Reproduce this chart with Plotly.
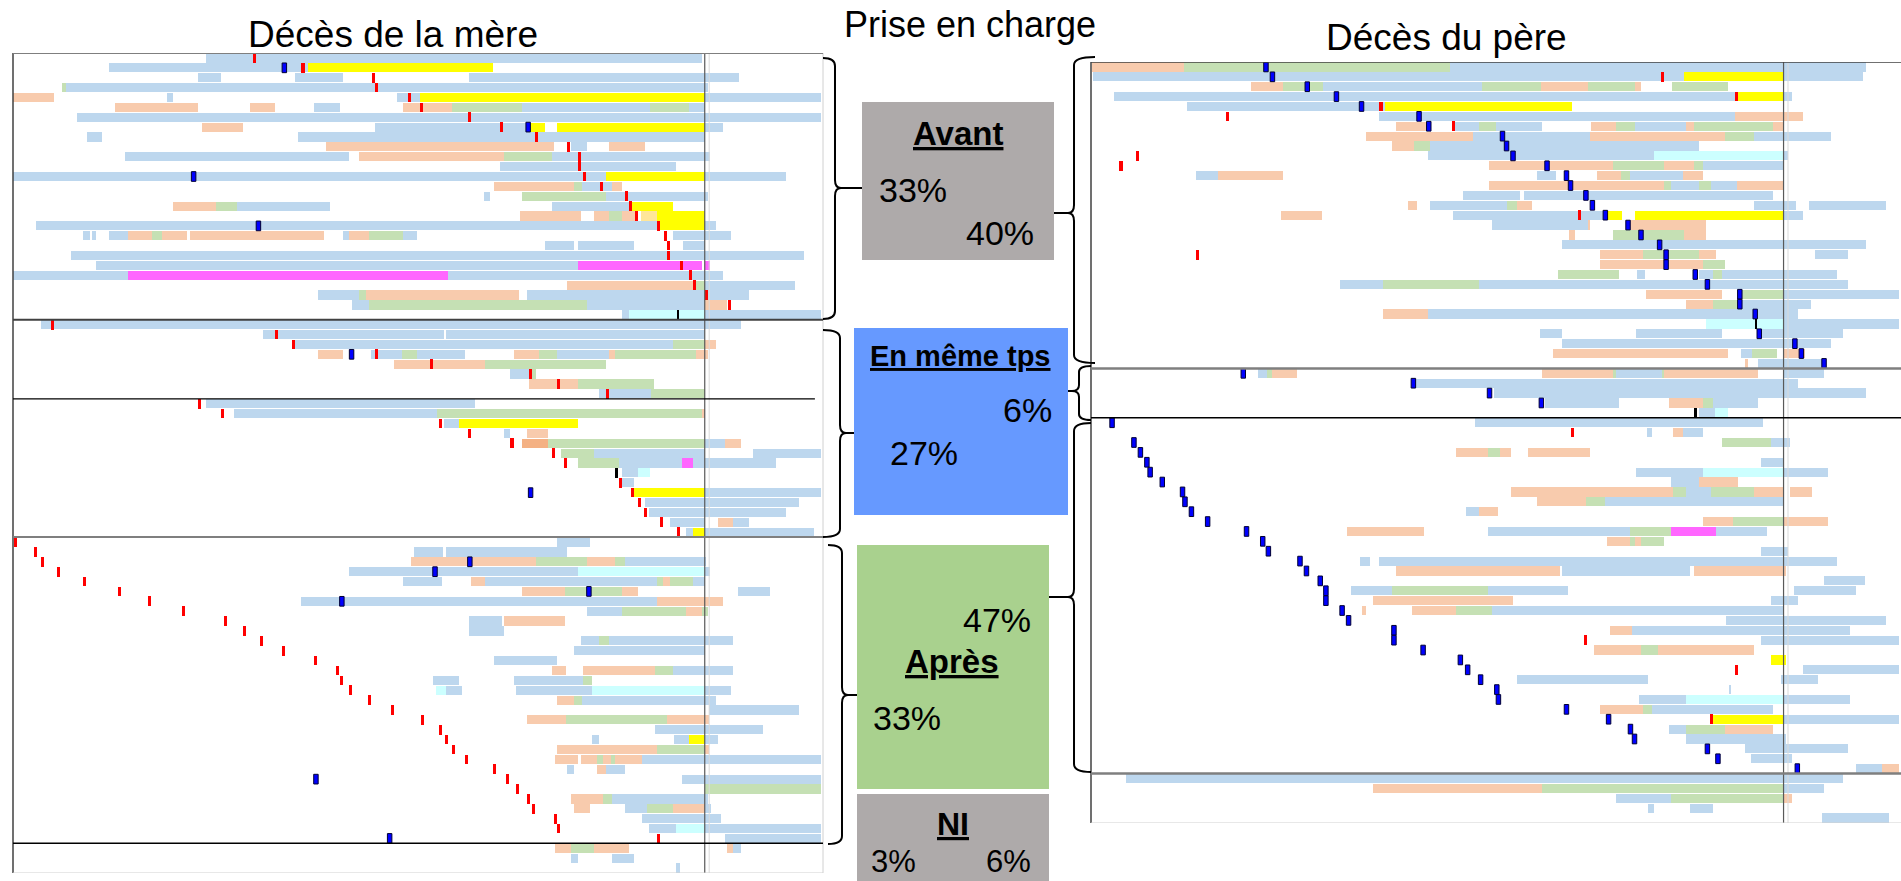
import plotly.graph_objects as go

W, H = 1901, 881

# colour codes for timeline segments and event marks
SEG_COLORS = {'b': '#bdd7ee', 'p': '#f8cbad', 'g': '#c5e0b4', 'y': '#ffff00',
              'm': '#ff66ff', 'c': '#ccffff', 'o': '#f4b183', 'l': '#ffe699'}
MARK_STYLE = {'R': ('#ff0000', 0.38, '#ff0000', 0.0),
              'K': ('#0000ff', 0.55, '#000033', 1.0),
              'N': ('#000000', 0.32, '#000000', 0.0)}

# ---------------- Décès de la mère ----------------
mere_avant = [
    [('b',23.8,85.1),('R',29.8)],
    [('b',11.8,36.4),('y',36.4,59.3),('K',33.5),('R',35.8)],
    [('b',22.8,25.7),('b',34.8,40.7),('b',56.3,89.6),('R',44.5)],
    [('g',6.0,6.6),('b',6.6,85.8),('R',44.9)],
    [('p',0,5.1),('b',19.0,19.7),('b',47.4,50.2),('y',50.2,85.4),('b',85.4,99.7),('R',48.9)],
    [('p',12.6,22.8),('p',29.3,32.3),('b',37.2,40.4),('p',48.2,54.2),('g',54.2,62.8),('b',62.8,78.7),('g',78.7,83.4),('b',83.4,85.4),('R',50.4)],
    [('b',7.9,99.7),('R',56.4)],
    [('p',23.3,28.4),('b',44.7,63.9),('y',63.9,65.7),('y',67.2,85.4),('b',85.4,87.7),('R',60.3),('K',63.6)],
    [('b',9.1,11.0),('b',35.2,85.4),('R',64.6)],
    [('p',38.7,66.8),('b',68.9,70.9),('p',73.6,78.0),('R',68.6)],
    [('b',13.8,41.5),('p',42.7,60.6),('g',60.6,66.6),('b',66.6,86.1),('R',69.9)],
    [('b',60.1,81.9),('R',69.9)],
    [('b',0,73.2),('y',73.2,85.4),('b',85.4,95.4),('K',22.3),('R',70.6)],
    [('p',59.4,69.2),('g',69.2,70.3),('b',70.3,73.9),('p',73.9,75.2),('R',72.6)],
    [('b',58.1,58.9),('g',62.8,73.2),('b',73.2,85.8),('R',75.7)],
    [('p',19.7,25.0),('g',25.0,27.7),('b',27.7,39.1),('b',66.6,76.2),('y',76.2,81.5),('R',76.2)],
    [('p',62.6,70.1),('p',71.7,73.6),('g',73.6,75.2),('p',75.2,76.8),('l',77.5,79.5),('y',79.5,85.4),('R',77.0)],
    [('b',2.8,79.8),('y',79.8,85.4),('b',85.4,86.8),('K',30.3),('R',79.7)],
    [('b',8.6,9.5),('b',9.8,10.3),('b',11.8,14.2),('p',14.2,17.1),('g',17.1,18.4),('p',18.4,21.5),('p',21.9,38.4),('b',40.7,41.5),('p',41.5,43.9),('g',43.9,48.2),('b',48.2,49.9),('b',81.5,88.7),('R',80.5)],
    [('b',65.7,69.2),('b',69.7,76.7),('b',82.7,85.4),('R',80.9)],
    [('b',7.2,97.7),('R',80.9)],
    [('b',10.3,69.7),('m',69.7,85.1),('m',85.4,86.1),('R',82.5)],
    [('b',0,14.2),('m',14.2,53.7),('b',53.7,87.7),('R',83.6)],
    [('p',68.4,84.1),('g',84.1,85.4),('b',85.4,96.5),('R',84.1)],
    [('b',37.6,42.7),('g',42.7,43.6),('p',43.6,62.5),('b',63.4,90.9),('R',85.6)],
    [('b',41.9,43.9),('g',43.9,70.9),('b',70.9,85.4),('p',85.4,88.1),('R',88.4)],
    [('b',75.2,76.0),('c',76.0,85.4),('b',85.4,99.7),('N',82.1)],
]
mere_meme_a = [
    [('b',3.5,89.9),('R',4.9)],
    [('b',30.9,53.2),('b',53.4,85.4),('R',32.5)],
    [('b',34.8,81.5),('g',81.5,85.4),('p',85.4,86.8),('R',34.6)],
    [('p',37.6,40.7),('b',44.2,48.0),('g',48.0,49.9),('b',49.9,55.8),('p',61.8,64.9),('g',64.9,67.2),('b',67.2,73.6),('p',73.6,74.3),('g',74.3,84.3),('p',84.3,85.8),('K',41.8),('R',44.9)],
    [('p',47.0,58.3),('g',58.3,73.2),('R',51.7)],
    [('b',61.4,63.9),('g',63.9,64.6),('R',63.9)],
    [('p',63.7,69.7),('g',69.7,79.1),('R',67.4)],
    [('b',72.4,78.8),('g',78.8,85.4),('R',73.4)],
]
mere_meme_b = [
    [('b',23.8,57.0),('R',23.0)],
    [('b',27.3,52.3),('g',52.3,85.1),('p',85.1,85.4),('R',25.9)],
    [('b',53.2,55.1),('y',55.1,69.7),('R',52.8)],
    [('b',60.6,61.4),('p',63.4,66.0),('R',56.4)],
    [('o',62.9,66.0),('g',66.0,85.4),('b',85.4,87.9),('p',87.9,89.9),('R',61.6)],
    [('g',67.7,71.7),('b',71.7,85.4),('b',91.4,99.7),('R',66.7)],
    [('g',69.7,74.8),('b',74.8,82.6),('m',82.6,83.9),('b',83.9,94.2),('R',68.2)],
    [('b',75.2,77.2),('c',77.2,78.7),('N',74.5)],
    [('b',75.2,76.7),('R',75.0)],
    [('y',76.7,85.4),('b',85.4,99.7),('K',63.9),('R',76.5)],
    [('b',78.0,97.0),('R',77.4)],
    [('b',78.5,95.4),('R',78.1)],
    [('b',81.1,85.4),('p',87.0,88.9),('b',88.9,90.9),('R',80.1)],
    [('b',83.1,83.9),('y',83.9,85.4),('b',85.4,98.9),('R',82.2)],
]
mere_apres = [
    [('b',67.2,71.2),('R',0.3)],
    [('b',49.5,53.1),('b',53.4,68.4),('R',2.8)],
    [('p',49.1,64.6),('g',64.6,70.9),('p',70.9,74.3),('g',74.3,75.6),('b',75.6,85.6),('R',3.6),('K',56.4)],
    [('b',41.5,69.7),('c',69.7,85.4),('b',85.4,86.1),('R',5.6),('K',52.1)],
    [('b',48.2,53.0),('p',56.6,58.3),('b',58.3,79.5),('g',79.5,80.3),('p',80.3,81.1),('g',81.1,83.9),('b',83.9,85.4),('R',8.8)],
    [('p',62.9,68.1),('g',68.1,75.2),('p',75.2,77.2),('b',89.5,93.4),('R',13.2),('K',71.1)],
    [('b',35.6,79.5),('p',79.5,87.7),('R',16.8),('K',40.6)],
    [('b',70.9,75.2),('g',75.2,83.1),('p',83.1,85.1),('g',85.1,85.8),('R',21.1)],
    [('b',56.3,60.4),('p',60.6,68.1),('R',26.2)],
    [('b',56.3,60.6),('R',28.6)],
    [('b',70.1,72.3),('g',72.3,73.6),('b',73.6,88.9),('R',30.7)],
    [('b',69.2,85.4),('R',33.4)],
    [('b',59.4,67.2),('R',37.4)],
    [('p',66.6,68.3),('p',70.4,79.3),('g',79.3,81.5),('b',81.5,88.9),('R',40.1)],
    [('b',51.9,55.1),('b',61.8,70.4),('g',70.4,71.5),('R',40.5)],
    [('c',52.2,53.4),('b',53.4,55.4),('b',62.1,71.5),('c',71.5,85.4),('b',85.4,88.7),('R',41.7)],
    [('p',67.2,69.2),('g',69.2,70.3),('b',70.3,86.8),('R',44.0)],
    [('b',85.9,97.0),('R',46.9)],
    [('p',63.4,68.3),('g',68.3,80.8),('p',80.8,85.9),('R',50.5)],
    [('b',79.3,92.6),('R',52.8)],
    [('b',71.5,72.3),('b',81.6,83.4),('y',83.4,85.4),('b',85.4,87.0),('R',53.5)],
    [('p',67.2,79.5),('g',79.5,85.4),('p',85.4,85.9),('R',54.4)],
    [('p',66.9,69.7),('p',70.1,72.1),('g',72.1,72.9),('p',72.9,73.8),('g',73.8,74.3),('p',74.3,77.6),('b',77.6,99.7),('R',56.0)],
    [('b',68.4,69.2),('p',72.1,73.2),('b',73.2,75.5),('R',59.5)],
    [('b',82.6,99.7),('R',61.1),('K',37.4)],
    [('g',85.4,99.7),('R',62.3)],
    [('p',68.9,72.9),('g',72.9,74.0),('b',74.0,85.8),('R',63.6)],
    [('p',69.3,71.2),('b',75.6,78.3),('g',78.3,81.5),('p',81.5,85.4),('b',85.4,86.2),('R',64.3)],
    [('b',77.6,87.4),('R',67.0)],
    [('b',78.5,81.9),('c',81.9,85.4),('b',85.4,99.7),('R',67.4)],
    [('b',87.9,99.7),('R',79.7),('K',46.5)],
]
mere_ni = [
    [('p',66.9,68.9),('g',68.9,71.7),('p',71.7,76.0),('p',88.2,88.9),('b',88.9,89.9)],
    [('b',68.9,69.7),('b',74.0,76.7)],
    [('b',81.9,82.3)],
]

# ---------------- Décès du père ----------------
pere_avant = [
    [('p',0.1,11.5),('g',11.5,44.3),('b',44.3,95.7),('K',21.6)],
    [('b',0.3,73.2),('y',73.2,85.5),('b',85.5,95.3),('K',22.4),('R',70.5)],
    [('p',19.8,23.7),('g',23.7,28.7),('b',28.7,48.3),('g',48.3,55.5),('p',55.5,61.3),('g',61.3,67.2),('p',67.2,67.9),('g',71.7,78.7),('K',26.7)],
    [('b',2.8,79.7),('y',79.9,85.5),('b',85.5,86.6),('K',30.3),('R',79.7)],
    [('b',11.9,36.3),('y',36.3,59.4),('K',33.4),('R',35.8)],
    [('b',35.6,79.5),('p',79.5,87.9),('R',16.8),('K',40.5)],
    [('p',37.7,41.3),('b',44.8,47.9),('g',47.9,50.0),('b',50.0,55.7),('p',61.7,64.8),('g',64.8,67.2),('b',67.2,73.5),('p',73.5,74.5),('g',74.5,84.2),('p',84.2,85.5),('K',41.7),('R',44.8)],
    [('p',34.0,47.1),('b',47.1,61.6),('p',61.6,78.3),('g',78.3,81.9),('b',81.9,91.3),('K',50.8)],
    [('p',37.2,39.9),('g',39.9,41.8),('b',41.8,75.0),('K',51.3)],
    [('b',41.6,69.5),('c',69.5,85.5),('b',85.5,86.1),('R',5.7),('K',52.1)],
    [('p',49.1,64.5),('g',64.5,70.8),('p',70.8,74.5),('g',74.5,75.5),('b',75.5,85.5),('R',3.7),('K',56.3)],
    [('b',13.0,15.7),('p',15.7,23.7),('b',55.0,57.4),('p',62.5,65.4),('g',65.4,66.5),('b',66.5,73.1),('p',73.1,75.5),('K',58.7)],
    [('p',49.1,70.8),('g',70.8,71.6),('b',71.6,75.0),('g',75.0,76.5),('b',76.5,79.7),('p',79.7,85.5),('K',59.2)],
    [('b',45.9,53.0),('b',53.4,84.2),('K',61.1)],
    [('p',39.1,40.3),('b',41.9,51.4),('g',51.4,52.6),('p',52.6,54.5),('b',81.9,87.0),('b',88.7,98.1),('K',61.9)],
    [('p',23.4,28.5),('b',44.7,63.5),('y',63.5,65.6),('y',67.2,85.5),('b',85.5,87.9),('R',60.3),('K',63.5)],
    [('b',49.5,61.3),('p',61.3,61.6),('p',66.6,75.9),('K',66.3)],
    [('p',59.0,59.7),('g',64.5,73.2),('p',73.2,75.9),('K',67.9)],
    [('b',58.2,95.7),('K',70.2)],
    [('p',62.9,68.1),('g',68.1,75.0),('p',75.0,77.1),('b',89.4,93.4),('R',13.2),('K',71.0)],
    [('p',62.9,75.5),('g',75.5,78.3),('K',71.0)],
    [('g',57.7,65.2),('b',67.4,68.4),('b',75.0,76.8),('g',76.8,77.9),('b',77.9,92.1),('K',74.6)],
    [('b',30.8,36.0),('g',36.0,47.9),('b',47.9,93.4),('K',76.1)],
    [('p',68.5,77.9),('g',80.1,85.5),('b',85.5,99.7),('K',80.1)],
    [('p',73.5,76.8),('g',76.8,80.1),('b',80.1,88.9),('K',80.1)],
    [('p',36.0,41.6),('b',41.6,87.3),('K',82.0)],
    [('c',75.9,85.5),('b',85.5,99.7),('N',82.1)],
    [('b',55.4,58.1),('b',67.3,77.9),('b',82.5,92.9),('K',82.5)],
    [('b',58.2,91.3),('K',86.9)],
    [('p',57.0,78.7),('b',80.3,81.6),('g',81.6,84.7),('p',85.5,88.1),('K',87.7)],
    [('p',80.8,81.1),('b',82.3,90.3),('K',90.5)],
]
pere_meme = [
    [('b',20.6,21.7),('g',21.7,22.3),('p',22.3,25.4),('p',55.7,64.5),('g',64.5,64.8),('b',64.8,70.5),('g',70.5,70.8),('p',70.8,82.3),('b',85.5,90.5),('K',18.8)],
    [('b',40.0,87.3),('K',39.8)],
    [('b',49.7,95.7),('K',49.2)],
    [('b',56.0,65.2),('p',71.3,75.6),('g',75.6,76.8),('b',76.8,82.3),('K',55.6)],
    [('b',75.0,77.0),('c',77.0,78.7),('N',74.6)],
]
pere_apres = [
    [('b',47.4,83.0),('K',2.6)],
    [('b',68.6,69.2),('p',71.9,73.1),('b',73.1,75.6),('R',59.5)],
    [('g',77.9,83.9),('b',83.9,86.3),('K',5.3)],
    [('p',45.0,49.0),('g',49.0,50.5),('p',50.5,51.8),('p',53.9,61.6),('K',6.1)],
    [('b',82.7,85.5),('K',6.9)],
    [('b',67.3,75.6),('c',75.6,85.5),('b',85.5,91.0),('K',7.3)],
    [('b',71.6,75.0),('p',75.0,79.9),('K',8.8)],
    [('p',51.8,71.9),('g',71.9,73.5),('b',73.5,76.5),('g',76.5,81.9),('p',81.9,85.5),('p',86.3,89.0),('K',11.3)],
    [('p',55.0,61.1),('g',61.1,63.5),('b',63.5,85.5),('K',11.6)],
    [('b',46.3,47.9),('p',47.9,50.2),('K',12.4)],
    [('p',75.6,79.2),('g',79.2,85.5),('p',85.5,91.0),('K',14.4)],
    [('p',31.6,41.1),('b',49.0,66.5),('g',66.5,71.6),('m',71.6,77.1),('b',77.1,83.4),('K',19.2)],
    [('p',63.7,66.5),('g',66.5,67.2),('p',67.2,67.9),('g',67.9,70.8),('K',21.2)],
    [('b',82.7,86.1),('K',21.9)],
    [('b',33.2,34.4),('b',35.6,92.1),('K',25.8)],
    [('p',37.7,57.9),('b',58.1,74.0),('p',74.4,85.8),('K',26.6)],
    [('b',90.5,95.6),('K',28.3)],
    [('b',32.1,37.2),('g',37.2,49.0),('b',49.0,58.9),('b',86.8,94.5),('K',29.0)],
    [('p',34.8,52.1),('b',83.9,87.3),('K',29.0)],
    [('p',33.5,33.9),('p',39.6,45.0),('g',45.0,49.5),('b',49.5,85.5),('K',31.0)],
    [('b',78.4,98.1),('K',31.8)],
    [('p',64.1,66.8),('b',66.8,93.7),('K',37.4)],
    [('b',82.7,99.7),('R',61.0),('K',37.4)],
    [('p',62.1,67.9),('g',67.9,70.0),('p',70.0,81.9),('K',41.0)],
    [('y',83.9,85.8),('K',45.6)],
    [('b',87.9,99.7),('R',79.7),('K',46.5)],
    [('b',52.6,68.8),('b',85.2,89.7),('K',48.1)],
    [('b',78.8,79.0),('K',50.1)],
    [('b',67.7,73.5),('c',73.5,85.5),('b',85.5,93.7),('K',50.3)],
    [('p',62.9,68.1),('g',68.1,69.2),('b',69.2,84.2),('K',58.7)],
    [('y',76.8,85.5),('b',85.5,99.7),('R',76.6),('K',63.9)],
    [('b',71.3,73.5),('g',73.5,78.3),('p',78.3,84.2),('K',66.6)],
    [('b',73.5,85.8),('K',67.1)],
    [('b',80.8,93.4),('K',76.1)],
    [('b',81.5,86.6),('K',77.4)],
    [('b',94.5,97.7),('p',97.7,99.7),('K',87.2)],
]
pere_ni = [
    [('b',4.3,92.9)],
    [('p',34.8,55.7),('g',55.7,85.5),('b',85.5,90.5)],
    [('b',64.8,71.6),('g',71.6,85.5),('p',85.5,86.6)],
    [('b',68.8,69.5),('b',74.0,76.8)],
    [('b',90.2,98.5)],
]

mere_rows = mere_avant + mere_meme_a + mere_meme_b + mere_apres + mere_ni
pere_rows = pere_avant + pere_meme + pere_apres + pere_ni
mere_ref = 85.4   # vertical reference line (time axis)
pere_ref = 85.5

panel_titles = ["Décès de la mère", "Prise en charge", "Décès du père"]
group_labels = ["Avant", "En même tps", "Après", "NI"]
pct_mere = ["33%", "27%", "33%", "3%"]
pct_pere = ["40%", "6%", "47%", "6%"]

fig = go.Figure()


def add_panel(rows, xa, ya):
    for code, col in SEG_COLORS.items():
        ys, bases, lens = [], [], []
        for i, row in enumerate(rows):
            for it in row:
                if len(it) == 3 and it[0] == code:
                    ys.append(i); bases.append(it[1]); lens.append(it[2] - it[1])
        if ys:
            fig.add_trace(go.Bar(orientation='h', y=ys, x=lens, base=bases, width=0.93,
                                 marker=dict(color=col, line=dict(width=0)),
                                 xaxis=xa, yaxis=ya, hoverinfo='skip', showlegend=False))
    for code, (col, w, lcol, lw) in MARK_STYLE.items():
        ys, bases = [], []
        for i, row in enumerate(rows):
            for it in row:
                if len(it) == 2 and it[0] == code:
                    ys.append(i); bases.append(it[1] - w / 2)
        if ys:
            fig.add_trace(go.Bar(orientation='h', y=ys, x=[w] * len(ys), base=bases, width=0.98,
                                 marker=dict(color=col, line=dict(width=lw, color=lcol)),
                                 xaxis=xa, yaxis=ya, hoverinfo='skip', showlegend=False))


add_panel(mere_rows, 'x', 'y')
add_panel(pere_rows, 'x2', 'y2')

nm = len(mere_rows)
npr = len(pere_rows)

ax_common = dict(visible=False, showgrid=False, zeroline=False, fixedrange=True)
fig.update_layout(
    width=W, height=H, autosize=False,
    margin=dict(l=0, r=0, t=0, b=0),
    paper_bgcolor='white', plot_bgcolor='white',
    barmode='overlay', bargap=0,
    xaxis=dict(domain=[13 / W, 823 / W], range=[0, 100], anchor='y', **ax_common),
    yaxis=dict(domain=[1 - 873 / H, 1 - 53 / H], range=[nm - 0.5, -0.5], anchor='x', **ax_common),
    xaxis2=dict(domain=[1091 / W, 1.0], range=[0, 100], anchor='y2', **ax_common),
    yaxis2=dict(domain=[1 - 823 / H, 1 - 62 / H], range=[npr - 0.5, -0.5], anchor='x2', **ax_common),
)

shapes = []


def hline(xr, yr, yv, color, width, x0=0, x1=1):
    shapes.append(dict(type='line', xref=xr + ' domain', yref=yr, x0=x0, x1=x1, y0=yv, y1=yv,
                       line=dict(color=color, width=width), layer='above'))


def vline(xr, yr, xv, color, width):
    shapes.append(dict(type='line', xref=xr, yref=yr + ' domain', x0=xv, x1=xv, y0=0, y1=1,
                       line=dict(color=color, width=width), layer='above'))


# left panel frame and group separators
b1 = len(mere_avant) - 0.5
b2 = b1 + len(mere_meme_a)
b3 = b2 + len(mere_meme_b)
b4 = b3 + len(mere_apres)
vline('x', 'y', mere_ref + 0.55, '#d9d9d9', 1)
vline('x', 'y', mere_ref, '#595959', 1.2)
shapes.append(dict(type='line', xref='x domain', yref='y domain', x0=0, x1=0, y0=0, y1=1,
                   line=dict(color='#404040', width=1.5)))
shapes.append(dict(type='line', xref='x domain', yref='y domain', x0=1, x1=1, y0=0, y1=1,
                   line=dict(color='#d0d0d0', width=1)))
hline('x', 'y', nm - 0.5, '#d0d0d0', 1)
hline('x', 'y', -0.5, '#7f7f7f', 2)
hline('x', 'y', b1, '#404040', 2)
hline('x', 'y', b2, '#000000', 1.2, 0, 0.99)
hline('x', 'y', b3, '#7f7f7f', 2)
hline('x', 'y', b4, '#000000', 1.5)

# right panel frame and group separators
c1 = len(pere_avant) - 0.5
c2 = c1 + len(pere_meme)
c3 = c2 + len(pere_apres)
vline('x2', 'y2', pere_ref + 0.55, '#d9d9d9', 1)
vline('x2', 'y2', pere_ref, '#595959', 1.2)
shapes.append(dict(type='line', xref='x2 domain', yref='y2 domain', x0=0, x1=0, y0=0, y1=1,
                   line=dict(color='#404040', width=1.5)))
hline('x2', 'y2', npr - 0.5, '#d0d0d0', 1)
hline('x2', 'y2', -0.5, '#404040', 1.5)
hline('x2', 'y2', c1, '#7f7f7f', 2.5)
hline('x2', 'y2', c2, '#000000', 1.5)
hline('x2', 'y2', c3, '#7f7f7f', 2.5)


def P(x, y):
    return f"{x / W:.5f},{1 - y / H:.5f}"


def box(x0, y0, x1, y1, col):
    shapes.append(dict(type='rect', xref='paper', yref='paper', x0=x0 / W, x1=x1 / W,
                       y0=1 - y1 / H, y1=1 - y0 / H, fillcolor=col, line=dict(width=0), layer='below'))


def brace(end_x, body_x, tip_x, line_x, top, bot, tip, r=8):
    path = (f"M{P(end_x, top)} Q{P(body_x, top)} {P(body_x, top + r)} L{P(body_x, tip - r)} "
            f"Q{P(body_x, tip)} {P(tip_x, tip)} Q{P(body_x, tip)} {P(body_x, tip + r)} "
            f"L{P(body_x, bot - r)} Q{P(body_x, bot)} {P(end_x, bot)} M{P(tip_x, tip)} L{P(line_x, tip)}")
    shapes.append(dict(type='path', xref='paper', yref='paper', path=path,
                       line=dict(color='black', width=2)))


box(862, 102, 1054, 260, '#aeaaaa')
box(854, 328, 1068, 515, '#6699ff')
box(857, 545, 1049, 789, '#a9d18e')
box(857, 794, 1049, 881, '#aeaaaa')

brace(823, 835, 841, 862, 58, 319, 188)
brace(823, 840, 846, 854, 330, 537, 433)
brace(828, 842, 848, 857, 545, 844, 695)
brace(1095, 1074, 1068, 1054, 57, 363, 213)
brace(1091, 1079, 1072, 1068, 366, 420, 391, r=6)
brace(1091, 1074, 1068, 1049, 423, 772, 597)
fig.update_layout(shapes=shapes)

FONT = "Liberation Sans, Arial, sans-serif"
ann = []


def txt(s, x, y, size):
    ann.append(dict(text=s, x=x / W, y=1 - y / H, xref='paper', yref='paper', showarrow=False,
                    xanchor='center', yanchor='middle',
                    font=dict(family=FONT, size=size, color='black')))


txt(panel_titles[0], 393, 34, 37)
txt(panel_titles[1], 970, 24, 36)
txt(panel_titles[2], 1446, 38, 37)

txt(f"<b><u>{group_labels[0]}</u></b>", 958, 134, 33)
txt(pct_mere[0], 913, 190, 34)
txt(pct_pere[0], 1000, 233, 34)
txt(f"<b><u>{group_labels[1]}</u></b>", 960, 356, 29)
txt(pct_pere[1], 1027, 410, 34)
txt(pct_mere[1], 924, 453, 34)
txt(pct_pere[2], 997, 620, 34)
txt(f"<b><u>{group_labels[2]}</u></b>", 952, 661, 33)
txt(pct_mere[2], 907, 718, 34)
txt(f"<b><u>{group_labels[3]}</u></b>", 953, 824, 32)
txt(pct_mere[3], 893, 861, 31)
txt(pct_pere[3], 1008, 861, 31)
fig.update_layout(annotations=ann)

fig.write_html("out.html", config={'displayModeBar': False, 'staticPlot': True},
               post_script="document.body.style.margin='0';document.body.style.overflow='hidden';")
